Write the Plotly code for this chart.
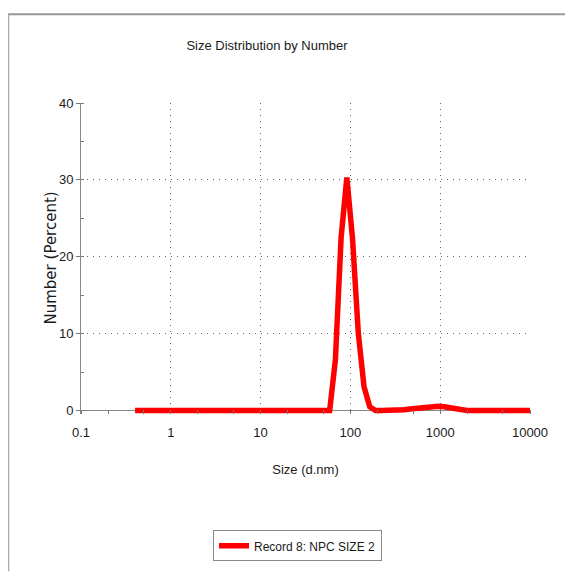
import plotly.graph_objects as go

# Data (size in d.nm, number in percent)
sizes = [0.4, 58.77, 68.06, 78.82, 91.28, 105.7, 122.4, 141.8, 164.2, 190.1,
         220.2, 255.0, 295.3, 342.0, 396.1, 458.7, 531.2, 615.1, 712.4, 825.0,
         955.4, 1106, 1281, 1484, 1718, 1990, 10000]
numbers = [0, 0, 6.6, 22.5, 30.3, 22.3, 10.1, 3.1, 0.5, 0,
           0, 0, 0, 0.05, 0.1, 0.2, 0.3, 0.4, 0.5, 0.55,
           0.55, 0.5, 0.4, 0.25, 0.1, 0, 0]
series_name = "Record 8: NPC SIZE 2"

x_tickvals = [0.1, 1, 10, 100, 1000, 10000]
x_ticktext = ["0.1", "1", "10", "100", "1000", "10000"]
y_tickvals = [0, 10, 20, 30, 40]

OFF = 8  # page body margin
W, H = 573 - OFF, 572 - OFF
# target pixel positions in the window
PL, PR, PT, PB = 81, 530, 103, 414.5
L, T = PL - OFF, PT - OFF
R = W - (PR - OFF)
B = H - (PB - OFF)
pw, ph = W - L - R, H - T - B

def px(xw):
    return (xw - PL) / pw

def py(yw):
    return (PB - yw) / ph

font_main = "Liberation Sans Narrow, Arial Narrow, Liberation Sans, Arial, sans-serif"
txt = "#1a1a1a"

fig = go.Figure()
fig.add_trace(go.Scatter(
    x=sizes, y=numbers, mode="lines", name=series_name,
    line=dict(color="#ff0000", width=5.5),
))

grid_kw = dict(showgrid=True, gridcolor="#666666", gridwidth=1, griddash="1px,5px")

fig.update_layout(
    width=W, height=H,
    margin=dict(l=L, r=R, t=T, b=B, pad=0, autoexpand=False),
    paper_bgcolor="white", plot_bgcolor="white",
    title=dict(text="Size Distribution by Number", x=(267 - OFF) / W, xref="container",
               xanchor="center", y=1 - (45 - OFF) / H, yref="container", yanchor="middle",
               font=dict(family=font_main, size=13, color=txt)),
    showlegend=True,
    legend=dict(x=px(213), y=py(531), xanchor="left", yanchor="top",
                bordercolor="#888888", borderwidth=1, bgcolor="white",
                font=dict(family=font_main, size=12, color=txt),
                itemwidth=30, tracegroupgap=0),
    xaxis=dict(type="log", range=[-1, 4], tickvals=x_tickvals, ticktext=x_ticktext,
               showline=False, zeroline=False,
               ticks="", ticklabelstandoff=9,
               tickfont=dict(family=font_main, size=13, color=txt),
               title=dict(text="Size (d.nm)", font=dict(family=font_main, size=13, color=txt),
                          standoff=25),
               minor=dict(ticks="inside", ticklen=4, tickcolor="#777777", showgrid=False),
               **grid_kw),
    yaxis=dict(range=[-0.45, 40], tickvals=y_tickvals,
               showline=True, linecolor="#888888", linewidth=1,
               zeroline=True, zerolinecolor="#888888", zerolinewidth=1,
               ticks="outside", ticklen=4, tickcolor="#777777",
               tickfont=dict(family=font_main, size=13, color=txt),
               minor=dict(dtick=5, ticks="inside", ticklen=3, tickcolor="#777777", showgrid=False),
               **grid_kw),
    annotations=[dict(text="Number (Percent)", xref="paper", yref="paper",
                      x=px(50), y=0.5, xanchor="center", yanchor="middle",
                      textangle=-90, showarrow=False,
                      font=dict(family="DejaVu Sans, sans-serif", size=15, color=txt))],
)

# outer frame lines (top and left)
fig.add_shape(type="line", xref="paper", yref="paper",
              x0=px(7), x1=px(573), y0=py(14), y1=py(14),
              line=dict(color="#999999", width=2))
fig.add_shape(type="line", xref="paper", yref="paper",
              x0=px(8.5), x1=px(8.5), y0=py(14), y1=py(572),
              line=dict(color="#aaaaaa", width=1.5))

fig.write_html("out.html")
